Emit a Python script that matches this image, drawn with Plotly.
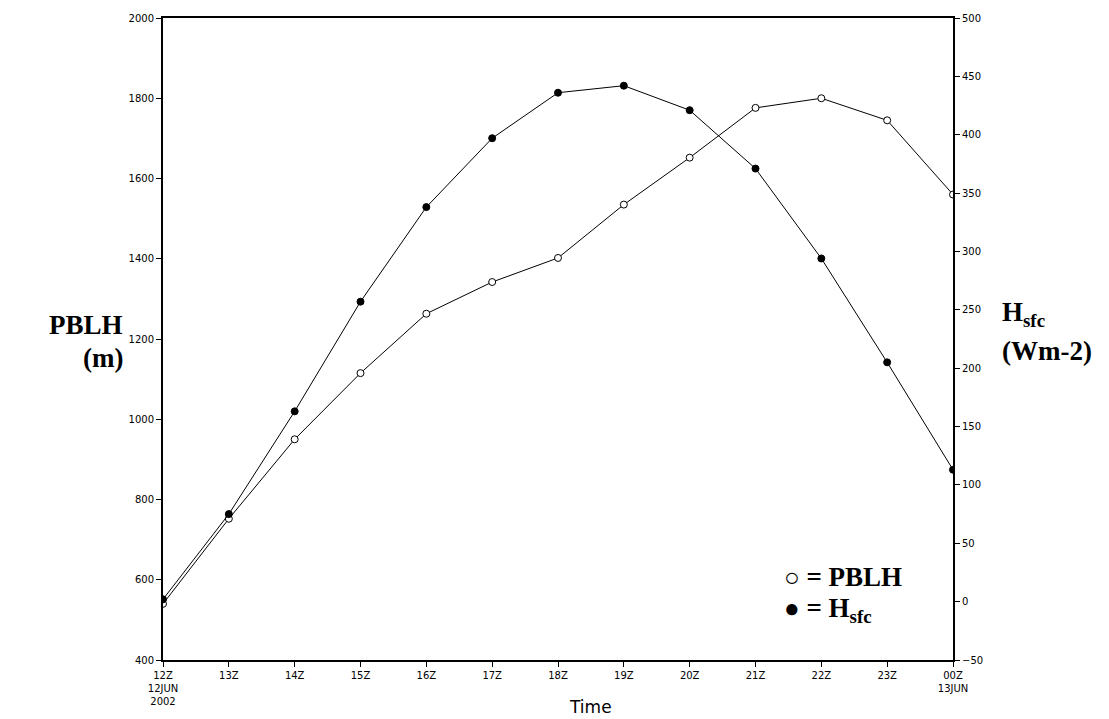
import plotly.graph_objects as go

hours = [0, 1, 2, 3, 4, 5, 6, 7, 8, 9, 10, 11, 12]
tick_labels = ["12Z<br>12JUN<br>2002", "13Z", "14Z", "15Z", "16Z", "17Z", "18Z",
               "19Z", "20Z", "21Z", "22Z", "23Z", "00Z<br>13JUN"]
pblh = [540, 752, 950, 1115, 1263, 1342, 1402, 1535, 1652, 1776, 1800, 1745, 1560]
hsfc = [2, 75, 163, 257, 338, 397, 436, 442, 421, 371, 294, 205, 113]

W, H = 1109, 719
L, R, T, B = 163, 953, 14, 661
PW, PH = R - L, B - T

def px(x):
    return (x - L) / PW

def py(y):
    return (B - y) / PH

fig = go.Figure()
fig.add_trace(go.Scatter(
    x=hours, y=pblh, mode="lines+markers", name="PBLH",
    line=dict(color="black", width=1),
    marker=dict(symbol="circle", size=7, color="white", line=dict(color="black", width=1)),
    showlegend=False))
fig.add_trace(go.Scatter(
    x=hours, y=hsfc, mode="lines+markers", name="Hsfc", yaxis="y2",
    line=dict(color="black", width=1),
    marker=dict(symbol="circle", size=7, color="black", line=dict(color="black", width=1)),
    showlegend=False))

tickfont = dict(family="DejaVu Sans", size=10, color="black")
fig.update_layout(
    width=W, height=H,
    margin=dict(l=L, r=W - R, t=T, b=H - B),
    paper_bgcolor="white", plot_bgcolor="white",
    xaxis=dict(range=[0, 12], tickvals=hours, ticktext=tick_labels,
               showgrid=False, zeroline=False, showline=True, linecolor="black", linewidth=2,
               mirror=True, ticks="outside", ticklen=5, tickcolor="black", tickwidth=1,
               tickfont=tickfont),
    yaxis=dict(range=[400, 2000], dtick=200, tick0=400,
               showgrid=False, zeroline=False, showline=True, linecolor="black", linewidth=2,
               ticks="outside", ticklen=5, tickcolor="black", tickwidth=1, tickfont=tickfont),
    yaxis2=dict(range=[-50, 500], dtick=50, tick0=-50, overlaying="y", side="right",
                showgrid=False, zeroline=False, showline=True, linecolor="black", linewidth=2,
                ticks="outside", ticklen=5, tickcolor="black", tickwidth=1, tickfont=tickfont),
)

big = dict(family="Liberation Serif", size=27, color="black")
ann = []
ann.append(dict(x=px(125), y=py(323), text="<b>PBLH</b>", xanchor="right", yanchor="middle", font=big))
ann.append(dict(x=px(125), y=py(357), text="<b>(m)</b>", xanchor="right", yanchor="middle", font=big))
ann.append(dict(x=px(1000), y=py(312), text="<b>H<sub>sfc</sub></b>", xanchor="left", yanchor="middle", font=big))
ann.append(dict(x=px(1000), y=py(350), text="<b>(Wm-2)</b>", xanchor="left", yanchor="middle", font=big))
ann.append(dict(x=px(782), y=py(577),
                text="<span style='font-size:26px'>○</span> <b>= PBLH</b>",
                xanchor="left", yanchor="middle", font=big))
ann.append(dict(x=px(782), y=py(611),
                text="<span style='font-size:26px'>●</span> <b>= H<sub>sfc</sub></b>",
                xanchor="left", yanchor="middle", font=big))
ann.append(dict(x=px(590), y=py(708), text="Time", xanchor="center", yanchor="middle",
                font=dict(family="DejaVu Sans", size=17, color="black")))
for a in ann:
    a.update(xref="paper", yref="paper", showarrow=False)
fig.update_layout(annotations=ann)

fig.write_html("out.html")
